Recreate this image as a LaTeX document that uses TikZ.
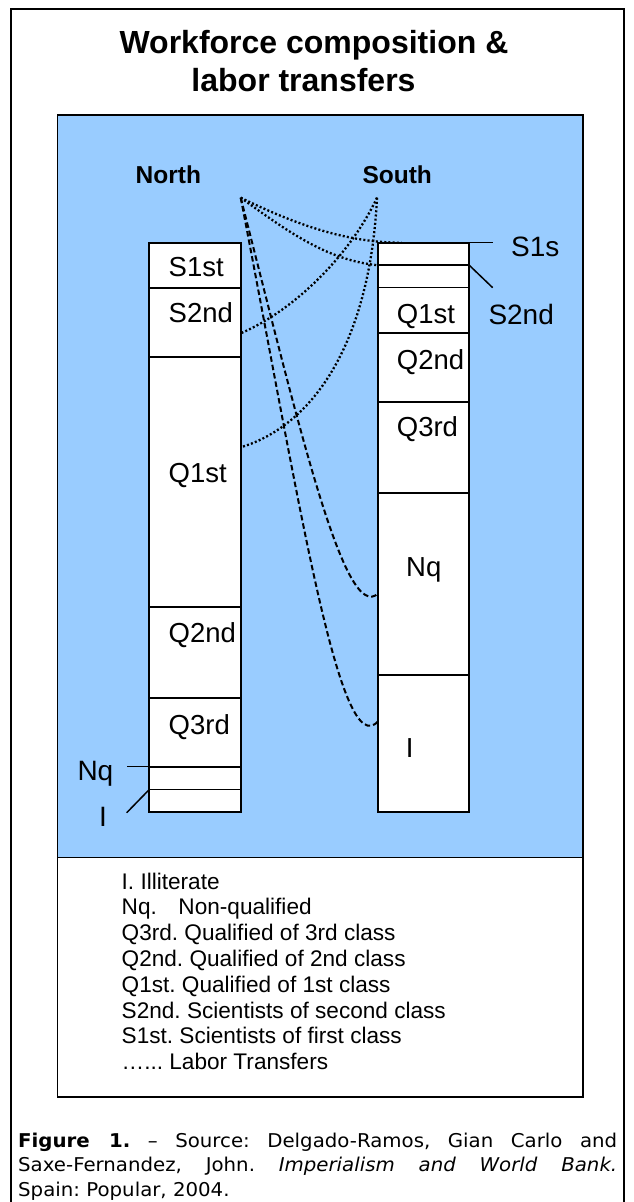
\documentclass[tikz,border=0pt]{standalone}
\usepackage{fontspec}
\setmainfont{Liberation Sans}
\newfontfamily\capfont[FakeStretch=1.04]{DejaVu Sans}
\definecolor{skyfill}{HTML}{99CCFF}
\tikzset{
  cell/.style={draw=black, line width=1.7pt, fill=white},
  divider/.style={draw=black, line width=1.7pt},
  lbl/.style={anchor=base west, inner sep=0pt, font=\fontsize{27.5}{30}\selectfont},
  outlbl/.style={anchor=base west, inner sep=0pt, font=\fontsize{28}{30}\selectfont},
  hdr/.style={anchor=base west, inner sep=0pt, font=\bfseries\fontsize{24.5}{28}\selectfont},
  ttl/.style={anchor=base, inner sep=0pt, font=\bfseries\fontsize{32}{38}\selectfont},
  legendtxt/.style={anchor=base west, inner sep=0pt, font=\frenchspacing\fontsize{22.6}{26}\selectfont},
  captxt/.style={anchor=base west, inner sep=0pt, font=\capfont\frenchspacing\fontsize{19}{24.5}\selectfont},
  leader/.style={draw=black, line width=1.5pt},
  dottransfer/.style={draw=black, line width=2.3pt, dash pattern=on 2pt off 2.2pt},
  dashtransfer/.style={draw=black, line width=2pt, dash pattern=on 5.5pt off 3pt},
}
\begin{document}
\begin{tikzpicture}[x=1pt,y=-1pt]
\useasboundingbox (0,0) rectangle (634,1202);
\fill[white] (0,0) rectangle (634,1202);

% outer frame (open at the bottom)
\draw[line width=2pt] (10.7,1203) -- (10.7,9.3) -- (624,9.3) -- (624,1203);

% title
\node[ttl] (title1) at (314,53) {Workforce composition \&};
\node[ttl] (title2) at (303.5,91) {labor transfers};

% blue panel and legend panel
\draw[fill=skyfill, draw=black, line width=1.2pt] (57.7,115) rectangle (583,857.5);
\draw[fill=white, draw=black, line width=1.2pt] (57.7,857.5) rectangle (583,1097);

% North column
\draw[cell] (149.3,242.7) rectangle (240.7,812);
\foreach \yy in {287.7,356.7,606.7,698.3,766.7,789.5}
  \draw[divider] (149.3,\yy) -- (240.7,\yy);

% South column
\draw[cell] (378.3,242.7) rectangle (469.3,812.3);
\foreach \yy in {265.3,287.5,333.3,402,493.3,675}
  \draw[divider] (378.3,\yy) -- (469.3,\yy);

% column headings
\node[hdr] (north) at (135.5,183.3) {North};
\node[hdr] (south) at (362.3,183.3) {South};

% cell labels, North column
\node[lbl] (nS1) at (168.5,276.5) {S1st};
\node[lbl] (nS2) at (168.5,322.5) {S2nd};
\node[lbl] (nQ1) at (168.5,482) {Q1st};
\node[lbl] (nQ2) at (168.5,642.5) {Q2nd};
\node[lbl] (nQ3) at (168.5,734) {Q3rd};

% cell labels, South column
\node[lbl] (sQ1) at (396.7,323) {Q1st};
\node[lbl] (sQ2) at (396.7,369) {Q2nd};
\node[lbl] (sQ3) at (396.7,436.5) {Q3rd};
\node[lbl] (sNq) at (406,576.5) {Nq};
\node[lbl] (sI) at (405.7,757) {I};

% leader lines and outside labels
\coordinate (rS1a) at (469.3,242.7);
\coordinate (rS1b) at (493,242.7);
\coordinate (rS2a) at (469.3,265.3);
\coordinate (rS2b) at (492.7,287.7);
\coordinate (lNqa) at (149.3,766.7);
\coordinate (lNqb) at (126.7,766.7);
\coordinate (lIa) at (149.3,789.5);
\coordinate (lIb) at (126.7,812.7);
\draw[leader] (rS1a) -- (rS1b);
\draw[leader] (rS2a) -- (rS2b);
\draw[leader] (lNqa) -- (lNqb);
\draw[leader] (lIa) -- (lIb);
\node[outlbl] (oS1) at (511,256) {S1s};
\node[outlbl] (oS2) at (488.3,324) {S2nd};
\node[outlbl] (oNq) at (77.3,780.7) {Nq};
\node[outlbl] (oI) at (99,826) {I};

% transfer end points
\coordinate (N) at (240.7,197.7);
\coordinate (S) at (377,197.7);
\coordinate (rTop) at (401.7,242.7);
\coordinate (rS12) at (378.3,265.3);
\coordinate (lS2) at (240.7,333.3);
\coordinate (lQ1) at (240.7,447.3);
\coordinate (rNq) at (378.3,593.3);
\coordinate (rI) at (378.3,721);

% labor transfers
\draw[dottransfer] (N) .. controls (295.7,224.6) and (346.7,242.7) .. (rTop);
\draw[dottransfer] (N) .. controls (290.7,233.7) and (328.3,260.3) .. (rS12);
\draw[dottransfer] (S) .. controls (350,255) and (295,310) .. (lS2);
\draw[dottransfer] (S) .. controls (370,340) and (315,425) .. (lQ1);
\draw[dashtransfer] (N) .. controls (300,430) and (345,625) .. (rNq);
\draw[dashtransfer] (N) .. controls (300,505) and (340,765) .. (rI);

% legend
\node[legendtxt] (lg1) at (121.5,889) {I. Illiterate};
\node[legendtxt] (lg2) at (121.5,914.8) {\makebox[56.8pt][l]{Nq.}Non-qualified};
\node[legendtxt] (lg3) at (121.5,940.6) {Q3rd. Qualified of 3rd class};
\node[legendtxt] (lg4) at (121.5,966.4) {Q2nd. Qualified of 2nd class};
\node[legendtxt] (lg5) at (121.5,992.2) {Q1st. Qualified of 1st class};
\node[legendtxt] (lg6) at (121.5,1018) {S2nd. Scientists of second class};
\node[legendtxt] (lg7) at (121.5,1043.8) {S1st. Scientists of first class};
\node[legendtxt] (lg8) at (121.5,1069.6) {…... Labor Transfers};

% caption
\node[captxt] (cap1) at (18,1147)
  {\makebox[599pt][s]{\textbf{Figure 1.} – Source: Delgado-Ramos, Gian Carlo and}};
\node[captxt] (cap2) at (18,1171.6)
  {\makebox[599pt][s]{Saxe-Fernandez, John. \textit{Imperialism and World Bank.}}};
\node[captxt] (cap3) at (18,1196.2)
  {Spain: Popular, 2004.};
\end{tikzpicture}
\end{document}
